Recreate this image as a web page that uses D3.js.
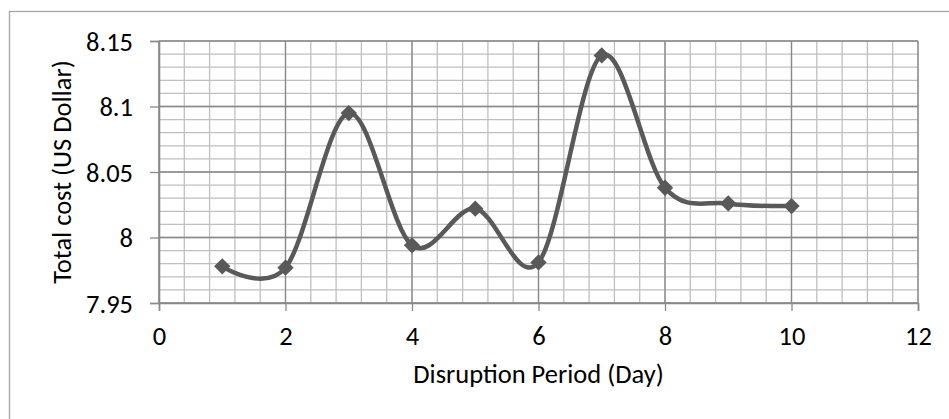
<!DOCTYPE html>
<html>
<head>
<meta charset="utf-8">
<script src="https://cdn.jsdelivr.net/npm/d3@7"></script>
<style>
  html, body { margin: 0; padding: 0; background: #fff; }
  svg { display: block; }
  text { font-family: Carlito, Calibri, Lato, "Open Sans", sans-serif; fill: #000; }
</style>
</head>
<body>
<svg id="chart" width="949" height="419"></svg>
<script>
const days = [1, 2, 3, 4, 5, 6, 7, 8, 9, 10];
const totalCost = [7.978, 7.977, 8.095, 7.994, 8.022, 7.981, 8.139, 8.038, 8.026, 8.024];
const xTicks = [0, 2, 4, 6, 8, 10, 12];
const yTicks = [7.95, 8, 8.05, 8.1, 8.15];
const xTitle = "Disruption Period (Day)";
const yTitle = "Total cost (US Dollar)";

const svg = d3.select("#chart");
const W = 949, H = 419;
const m = { left: 159, right: 949 - 918, top: 41, bottom: 419 - 303 };

// outer chart border (cropped at right and bottom)
svg.append("rect")
  .attr("x", 9.5).attr("y", 11.5)
  .attr("width", W + 20).attr("height", H + 20)
  .attr("fill", "none").attr("stroke", "#a6a6a6").attr("stroke-width", 1.3);

const x = d3.scaleLinear().domain([0, 12]).range([m.left, W - m.right]);
const y = d3.scaleLinear().domain([7.95, 8.15]).range([H - m.bottom, m.top]);

const g = svg.append("g");

// minor gridlines
const xMinor = d3.range(0, 12.0001, 0.4).map(v => +v.toFixed(2));
const yMinor = d3.range(7.95, 8.15001, 0.01).map(v => +v.toFixed(3));
g.append("g").selectAll("line").data(xMinor).join("line")
  .attr("x1", d => x(d)).attr("x2", d => x(d))
  .attr("y1", y(7.95)).attr("y2", y(8.15))
  .attr("stroke", "#bfbfbf").attr("stroke-width", 1.3);
g.append("g").selectAll("line").data(yMinor).join("line")
  .attr("y1", d => y(d)).attr("y2", d => y(d))
  .attr("x1", x(0)).attr("x2", x(12))
  .attr("stroke", "#bfbfbf").attr("stroke-width", 1.3);

// major gridlines
g.append("g").selectAll("line").data(xTicks).join("line")
  .attr("x1", d => x(d)).attr("x2", d => x(d))
  .attr("y1", y(7.95)).attr("y2", y(8.15))
  .attr("stroke", "#898989").attr("stroke-width", 1.3);
g.append("g").selectAll("line").data(yTicks).join("line")
  .attr("y1", d => y(d)).attr("y2", d => y(d))
  .attr("x1", x(0)).attr("x2", x(12))
  .attr("stroke", "#898989").attr("stroke-width", 1.3);

// axes
const fontSize = 26.5;
const xAxis = d3.axisBottom(x).tickValues(xTicks).tickSize(8).tickFormat(d3.format("d"));
const yAxis = d3.axisLeft(y).tickValues(yTicks).tickSize(9).tickFormat(d => String(d));

const gx = svg.append("g").attr("transform", `translate(0,${y(7.95)})`).call(xAxis);
const gy = svg.append("g").attr("transform", `translate(${x(0)},0)`).call(yAxis);
[gx, gy].forEach(a => {
  a.attr("font-size", fontSize).attr("font-family", null);
  a.select(".domain").attr("stroke", "#898989").attr("stroke-width", 1.6);
  a.selectAll(".tick line").attr("stroke", "#898989").attr("stroke-width", 1.3);
  a.selectAll(".tick text").attr("font-size", fontSize).attr("fill", "#000");
});
gx.selectAll(".tick text").attr("y", 42).attr("dy", 0);
gy.selectAll(".tick text").attr("x", -26).attr("dy", "0.35em");

// series line
const line = d3.line()
  .x((d, i) => x(days[i]))
  .y(d => y(d))
  .curve(d3.curveCatmullRom.alpha(0));
svg.append("path")
  .datum(totalCost)
  .attr("d", line)
  .attr("fill", "none")
  .attr("stroke", "#595959")
  .attr("stroke-width", 4.5)
  .attr("stroke-linejoin", "round");

// diamond markers
const diamond = d3.symbol().type(d3.symbolDiamond2).size(170);
svg.append("g").selectAll("path").data(totalCost).join("path")
  .attr("transform", (d, i) => `translate(${x(days[i])},${y(d)})`)
  .attr("d", diamond)
  .attr("fill", "#595959");

// titles
svg.append("text")
  .attr("x", (x(0) + x(12)) / 2).attr("y", 383)
  .attr("text-anchor", "middle")
  .attr("font-size", fontSize)
  .text(xTitle);

svg.append("text")
  .attr("transform", `translate(71,${(y(7.95) + y(8.15)) / 2}) rotate(-90)`)
  .attr("text-anchor", "middle")
  .attr("font-size", fontSize)
  .text(yTitle);
</script>
</body>
</html>
